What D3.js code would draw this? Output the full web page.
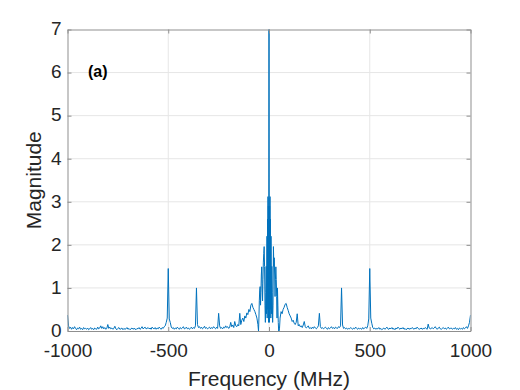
<!DOCTYPE html>
<html><head><meta charset="utf-8">
<script src="https://cdn.jsdelivr.net/npm/d3@7"></script>
<style>body{margin:0;background:#fff}svg{display:block}</style></head>
<body><svg id="c" width="520" height="390"></svg>
<script>
const xTicks = [-1000, -500, 0, 500, 1000];
const yTicks = [0, 1, 2, 3, 4, 5, 6, 7];
const xLabel = "Frequency (MHz)";
const yLabel = "Magnitude";
const panelLabel = "(a)";

// outer-left samples: -1000 .. -55 MHz, 5 MHz apart (rows of 10 = 50 MHz)
const leftStart = -1000, leftStep = 5;
const magLeft = [
  0.37,0.12,0.06,0.09,0.04,0.08,0.05,0.10,0.06,0.03,
  0.07,0.05,0.09,0.04,0.06,0.03,0.08,0.05,0.06,0.04,
  0.07,0.03,0.05,0.08,0.04,0.06,0.03,0.07,0.05,0.04,
  0.09,0.05,0.07,0.12,0.06,0.10,0.05,0.08,0.04,0.06,
  0.15,0.06,0.09,0.05,0.07,0.04,0.06,0.11,0.05,0.03,
  0.06,0.08,0.04,0.05,0.07,0.03,0.06,0.04,0.05,0.08,
  0.04,0.06,0.03,0.05,0.07,0.04,0.06,0.05,0.03,0.06,
  0.05,0.08,0.04,0.06,0.10,0.05,0.07,0.09,0.05,0.06,
  0.08,0.05,0.07,0.04,0.09,0.06,0.05,0.08,0.04,0.07,
  0.05,0.09,0.06,0.04,0.08,0.06,0.10,0.12,0.20,0.30,
  1.45,0.28,0.20,0.09,0.06,0.08,0.04,0.07,0.05,0.09,
  0.06,0.04,0.08,0.05,0.07,0.10,0.05,0.06,0.09,0.05,
  0.07,0.04,0.06,0.09,0.05,0.08,0.06,0.12,1.00,0.15,
  0.08,0.10,0.06,0.09,0.05,0.07,0.11,0.06,0.08,0.05,
  0.07,0.09,0.05,0.08,0.06,0.10,0.07,0.05,0.09,0.06,
  0.41,0.12,0.06,0.08,0.05,0.09,0.07,0.12,0.08,0.10,
  0.06,0.09,0.20,0.10,0.14,0.08,0.22,0.12,0.10,0.15,
  0.12,0.41,0.15,0.25,0.30,0.22,0.35,0.30,0.42,0.38,
  0.50,0.45,0.60,0.64,0.55,0.50,0.45,0.38,0.30,0.15
];

// central lobe, finer sampling
const freqCenter = [
  -52,-50,-48,-46,-44,-42,-40,-38,-36,-34,-32,-30,-28,-26,-24,-22,-20,-18,-16,-14,
  -12,-11,-10,-9,-8,-7,-6,-5,-4,-3,-2,-1,0,1,2,3,4,5,6,7,8,9,10,11,12,
  14,16,18,20,22,24,26,28,30,32,34,36,38,40,42,44,46,48,50,52
];
const magCenter = [
  0.00,0.30,0.70,0.95,1.03,0.60,0.90,1.30,1.49,1.10,0.70,1.20,1.60,1.80,1.96,1.50,0.60,0.20,0.90,1.50,
  0.40,1.20,2.20,0.30,1.80,2.60,0.50,3.12,1.00,2.90,0.20,3.10,7.00,3.10,0.20,2.90,1.00,3.12,0.50,2.60,1.80,0.30,2.20,1.20,0.40,
  1.50,0.90,0.20,0.60,1.96,1.50,1.70,1.30,0.80,1.20,1.49,1.20,0.80,0.30,1.00,0.60,0.20,0.00,0.00,0.05
];

// outer-right samples: 55 .. 1000 MHz, 5 MHz apart
const rightStart = 55, rightStep = 5;
const magRight = [
  0.30,0.45,0.40,0.50,0.55,0.62,0.64,0.55,0.48,0.40,
  0.35,0.30,0.22,0.25,0.18,0.15,0.20,0.40,0.12,0.15,
  0.10,0.12,0.08,0.14,0.22,0.10,0.07,0.09,0.12,0.06,
  0.08,0.05,0.09,0.06,0.10,0.07,0.05,0.08,0.12,0.41,
  0.10,0.06,0.08,0.05,0.07,0.09,0.06,0.04,0.08,0.05,
  0.07,0.10,0.06,0.08,0.05,0.09,0.07,0.06,0.10,0.08,
  0.12,1.00,0.14,0.06,0.08,0.05,0.07,0.04,0.06,0.05,
  0.08,0.06,0.04,0.07,0.05,0.09,0.06,0.04,0.07,0.05,
  0.06,0.04,0.08,0.05,0.07,0.09,0.06,0.12,0.28,1.45,
  0.30,0.18,0.08,0.05,0.07,0.04,0.06,0.05,0.08,0.04,
  0.06,0.03,0.05,0.07,0.04,0.06,0.09,0.05,0.04,0.07,
  0.05,0.08,0.04,0.06,0.03,0.07,0.05,0.09,0.06,0.04,
  0.07,0.05,0.08,0.04,0.06,0.03,0.05,0.07,0.04,0.06,
  0.05,0.08,0.06,0.04,0.07,0.05,0.09,0.06,0.04,0.05,
  0.07,0.04,0.06,0.05,0.08,0.06,0.04,0.16,0.07,0.05,
  0.06,0.08,0.05,0.07,0.10,0.06,0.04,0.07,0.09,0.05,
  0.04,0.06,0.08,0.05,0.07,0.04,0.06,0.09,0.05,0.06,
  0.07,0.04,0.06,0.05,0.08,0.04,0.06,0.03,0.07,0.05,
  0.06,0.04,0.08,0.05,0.07,0.10,0.06,0.12,0.20,0.37
];

const points = [
  ...magLeft.map((m, i) => [leftStart + i * leftStep, m]),
  ...magCenter.map((m, i) => [freqCenter[i], m]),
  ...magRight.map((m, i) => [rightStart + i * rightStep, m])
];

const m = {left: 67.5, right: 470.5, top: 29.5, bottom: 331};
const svg = d3.select("#c");
const font = "'Liberation Sans', Arial, Helvetica, sans-serif";

const x = d3.scaleLinear().domain([-1000, 1000]).range([m.left, m.right]);
const y = d3.scaleLinear().domain([0, 7]).range([m.bottom, m.top]);

// grid
const grid = svg.append("g").attr("stroke", "#e6e6e6").attr("stroke-width", 1);
xTicks.slice(1, -1).forEach(t => grid.append("line")
  .attr("x1", x(t)).attr("x2", x(t)).attr("y1", m.top).attr("y2", m.bottom));
yTicks.slice(1, -1).forEach(t => grid.append("line")
  .attr("x1", m.left).attr("x2", m.right).attr("y1", y(t)).attr("y2", y(t)));

// clip
svg.append("clipPath").attr("id", "clip").append("rect")
  .attr("x", m.left).attr("y", m.top - 1).attr("width", m.right - m.left).attr("height", m.bottom - m.top + 1);

svg.append("path")
  .datum(points)
  .attr("clip-path", "url(#clip)")
  .attr("fill", "none")
  .attr("stroke", "#0072BD")
  .attr("stroke-width", 1)
  .attr("stroke-linejoin", "round")
  .attr("d", d3.line().x(d => x(d[0])).y(d => y(d[1])));

// axes (MATLAB style: ticks inward, box)
const axisColor = "#8f8f8f";
const tickLen = 4;
const fmt = d => String(d);
const xAxisB = d3.axisBottom(x).tickValues(xTicks).tickFormat(fmt).tickSizeInner(-tickLen).tickSizeOuter(0).tickPadding(13);
const xAxisT = d3.axisTop(x).tickValues(xTicks).tickSizeInner(-tickLen).tickSizeOuter(0).tickFormat("");
const yAxisL = d3.axisLeft(y).tickValues(yTicks).tickFormat(fmt).tickSizeInner(-tickLen).tickSizeOuter(0).tickPadding(6);
const yAxisR = d3.axisRight(y).tickValues(yTicks).tickSizeInner(-tickLen).tickSizeOuter(0).tickFormat("");

function style(g) {
  g.select(".domain").attr("stroke", axisColor).attr("stroke-width", 1);
  g.selectAll(".tick line").attr("stroke", axisColor);
  g.selectAll(".tick text").attr("fill", "#262626").style("font-family", font).style("font-size", "19px");
}
svg.append("g").attr("transform", `translate(0,${m.bottom})`).call(xAxisB).call(style);
svg.append("g").attr("transform", `translate(0,${m.top})`).call(xAxisT).call(style);
const yg = svg.append("g").attr("transform", `translate(${m.left},0)`).call(yAxisL).call(style);
yg.selectAll(".tick text").attr("dy", "0.28em");
svg.append("g").attr("transform", `translate(${m.right},0)`).call(yAxisR).call(style);

// labels
svg.append("text").attr("x", (m.left + m.right) / 2).attr("y", 386)
  .attr("text-anchor", "middle").attr("fill", "#262626")
  .style("font-family", font).style("font-size", "21px").text(xLabel);
svg.append("text").attr("transform", `translate(41,${(m.top + m.bottom) / 2}) rotate(-90)`)
  .attr("text-anchor", "middle").attr("fill", "#262626")
  .style("font-family", font).style("font-size", "21px").text(yLabel);
svg.append("text").attr("x", 88).attr("y", 77)
  .attr("fill", "#000").style("font-family", font).style("font-size", "16px").style("font-weight", "bold")
  .text(panelLabel);
</script></body></html>
